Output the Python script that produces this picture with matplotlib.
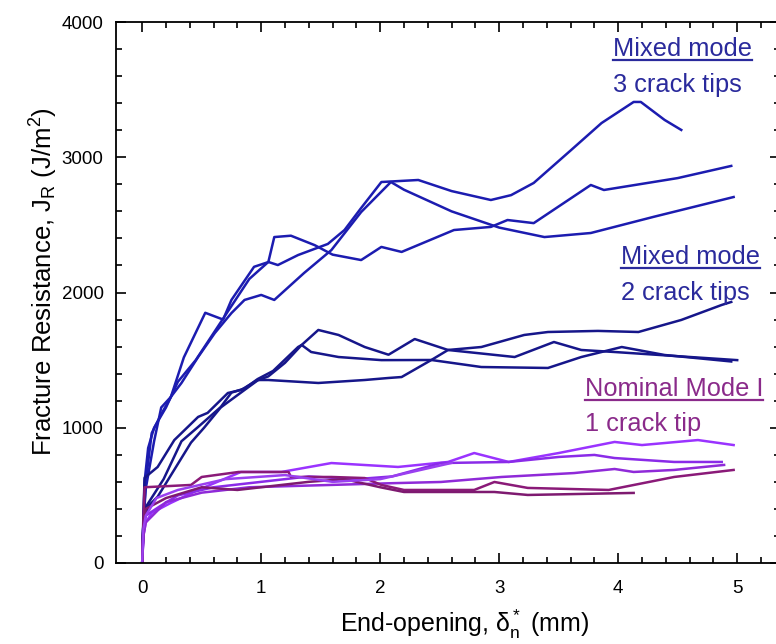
import matplotlib
matplotlib.use('Agg')
import matplotlib.pyplot as plt
from matplotlib.lines import Line2D
import numpy as np

plt.rcParams['font.family'] = ['Liberation Sans', 'DejaVu Sans']
plt.rcParams['mathtext.fontset'] = 'custom'
plt.rcParams['mathtext.rm'] = 'Liberation Sans'
plt.rcParams['mathtext.it'] = 'Liberation Sans:italic'

# mixed mode, 3 crack tips (end-opening mm, J_R J/m^2)
tip3_a_x = [0, 0.01, 0.02, 0.05, 0.1, 0.2, 0.3, 0.45, 0.6, 0.75, 0.9, 1.06, 1.14, 1.31, 1.56, 1.70, 1.84, 2.01,
            2.32, 2.6, 2.93, 3.1, 3.29, 3.6, 3.86, 4.13, 4.19, 4.39, 4.53]
tip3_a_y = [0, 300, 600, 850, 1000, 1150, 1340, 1500, 1700, 1900, 2100, 2226, 2203, 2277, 2359, 2462, 2625, 2817,
            2832, 2750, 2684, 2720, 2810, 3050, 3253, 3409, 3409, 3276, 3202]
tip3_b_x = [0, 0.01, 0.03, 0.08, 0.16, 0.24, 0.35, 0.53, 0.68, 0.75, 0.94, 1.06, 1.11, 1.25, 1.45, 1.6, 1.84,
            2.01, 2.18, 2.62, 2.93, 3.07, 3.29, 3.77, 3.88, 4.5, 4.95]
tip3_b_y = [0, 300, 600, 960, 1100, 1225, 1520, 1850, 1800, 1945, 2190, 2225, 2410, 2420, 2350, 2280, 2240,
            2337, 2300, 2462, 2485, 2536, 2513, 2795, 2758, 2846, 2936]
tip3_c_x = [0, 0.01, 0.03, 0.1, 0.16, 0.24, 0.33, 0.47, 0.61, 0.75, 0.86, 1.0, 1.11, 1.36, 1.59, 1.84, 2.09,
            2.2, 2.6, 3.0, 3.38, 3.77, 4.3, 4.97]
tip3_c_y = [0, 300, 550, 900, 1150, 1227, 1331, 1523, 1700, 1848, 1945, 1982, 1945, 2144, 2314, 2595, 2817,
            2760, 2600, 2480, 2410, 2440, 2560, 2706]

# mixed mode, 2 crack tips
tip2_a_x = [0, 0.01, 0.05, 0.13, 0.27, 0.41, 0.52, 0.66, 0.83, 0.97, 1.06, 1.2, 1.34, 1.48, 1.65, 1.87, 2.07,
            2.29, 2.57, 3.13, 3.46, 3.69, 3.97, 5.0]
tip2_a_y = [0, 300, 420, 490, 690, 890, 1000, 1150, 1260, 1350, 1380, 1480, 1612, 1723, 1686, 1597, 1540,
            1656, 1575, 1523, 1634, 1575, 1560, 1500]
tip2_b_x = [0, 0.01, 0.02, 0.18, 0.33, 0.47, 0.66, 0.75, 0.86, 0.97, 1.1, 1.31, 1.34, 1.42, 1.65, 2.01, 2.43,
            2.85, 3.41, 3.69, 4.03, 4.39, 4.95]
tip2_b_y = [0, 250, 400, 620, 900, 1006, 1153, 1260, 1290, 1360, 1420, 1597, 1612, 1560, 1523, 1500, 1501,
            1449, 1442, 1523, 1597, 1538, 1490]
tip2_c_x = [0, 0.01, 0.02, 0.13, 0.27, 0.47, 0.55, 0.72, 0.83, 0.97, 1.06, 1.48, 1.87, 2.07, 2.18, 2.43, 2.57,
            2.85, 3.21, 3.41, 3.83, 4.17, 4.53, 4.87, 4.95]
tip2_c_y = [0, 350, 630, 710, 909, 1080, 1110, 1257, 1279, 1353, 1353, 1331, 1353, 1368, 1375, 1501, 1575,
            1597, 1686, 1708, 1716, 1708, 1797, 1908, 1930]

# nominal mode I, 1 crack tip
nom_a_x = [0, 0.01, 0.03, 0.08, 0.24, 0.47, 0.83, 1.17, 1.59, 2.15, 2.57, 2.79, 3.08, 3.5, 3.97, 4.2, 4.67, 4.97]
nom_a_y = [0, 200, 300, 370, 444, 540, 673, 673, 739, 710, 747, 813, 747, 813, 895, 872, 909, 872]
nom_b_x = [0, 0.01, 0.03, 0.15, 0.3, 0.6, 1.0, 1.4, 1.8, 2.1, 2.51, 3.08, 3.5, 3.8, 3.97, 4.47, 4.87]
nom_b_y = [0, 200, 350, 420, 500, 560, 600, 640, 620, 640, 739, 747, 784, 799, 776, 747, 747]
nom_c_x = [0, 0.01, 0.03, 0.2, 0.5, 0.9, 1.3, 1.7, 2.1, 2.51, 3.02, 3.63, 3.97, 4.13, 4.47, 4.89]
nom_c_y = [0, 200, 300, 450, 520, 560, 570, 580, 590, 599, 636, 665, 695, 673, 688, 725]
nom_d_x = [0, 0.01, 0.02, 0.41, 0.5, 0.81, 1.23, 1.25, 1.59, 1.87, 2.01, 2.2, 2.51, 2.79, 2.96, 3.24, 3.92,
           4.47, 4.97]
nom_d_y = [0, 300, 560, 577, 636, 673, 673, 636, 636, 628, 577, 540, 540, 540, 599, 555, 540, 636, 688]
nom_e_x = [0, 0.01, 0.03, 0.2, 0.5, 0.8, 1.0, 1.4, 1.7, 2.0, 2.2, 2.51, 2.96, 3.24, 4.13]
nom_e_y = [0, 250, 400, 480, 560, 540, 560, 600, 620, 560, 525, 525, 525, 503, 518]
nom_f_x = [0, 0.01, 0.03, 0.12, 0.3, 0.7, 1.2, 1.6, 2.0, 2.4, 2.6]
nom_f_y = [0, 250, 350, 480, 540, 620, 650, 600, 620, 700, 740]

curves = [
    (tip3_a_x, tip3_a_y, '#1c1cb0'),
    (tip3_b_x, tip3_b_y, '#1c1cb0'),
    (tip3_c_x, tip3_c_y, '#1c1cb0'),
    (tip2_a_x, tip2_a_y, '#16168a'),
    (tip2_b_x, tip2_b_y, '#16168a'),
    (tip2_c_x, tip2_c_y, '#16168a'),
    (nom_a_x, nom_a_y, '#9a33ff'),
    (nom_b_x, nom_b_y, '#8a2be8'),
    (nom_c_x, nom_c_y, '#8f2ad8'),
    (nom_d_x, nom_d_y, '#8a1a78'),
    (nom_e_x, nom_e_y, '#7e1a70'),
    (nom_f_x, nom_f_y, '#9a40f0'),
]

fig = plt.figure(figsize=(7.76, 6.44), dpi=100)
ax = fig.add_axes([0.1495, 0.1258, 0.8557, 0.84])

for cx, cy, col in curves:
    ax.plot(cx, cy, color=col, lw=1.8)

ax.set_xlim(-0.22, 5.36)
ax.set_ylim(0, 4000)
ax.set_xticks(np.arange(0, 6, 1))
ax.set_yticks(np.arange(0, 4001, 1000))
ax.set_xticks(np.arange(0, 5.4, 0.2), minor=True)
ax.set_yticks(np.arange(0, 4001, 200), minor=True)
ax.tick_params(which='both', direction='in', top=True, right=True, labelsize=13.5, width=1.2)
ax.tick_params(which='major', length=7)
ax.tick_params(axis='x', which='major', pad=12)
ax.tick_params(axis='y', which='major', pad=9)
ax.tick_params(which='minor', length=4)
for s in ax.spines.values():
    s.set_linewidth(1.3)

ax.set_xlabel('End-opening, $\\mathrm{\\delta_n^*}$ (mm)', fontsize=18)
ax.set_ylabel('Fracture Resistance, J$_\\mathrm{R}$ (J/m$^\\mathrm{2}$)', fontsize=18.5)
ax.xaxis.set_label_coords(0.525, -0.083)
ax.yaxis.set_label_coords(-0.085, 0.52)

blue = '#2a2a9c'
purple = '#8a2a8a'
labels = [
    (3.96, 3800, 'Mixed mode', blue, True),
    (3.96, 3535, '3 crack tips', blue, False),
    (4.02, 2260, 'Mixed mode', blue, True),
    (4.02, 2000, '2 crack tips', blue, False),
    (3.72, 1285, 'Nominal Mode I', purple, True),
    (3.72, 1030, '1 crack tip', purple, False),
]
texts = []
for tx, ty, s, col, ul in labels:
    t = ax.text(tx, ty, s, color=col, fontsize=18.3, ha='left', va='center')
    texts.append((t, col, ul))

fig.canvas.draw()
r = fig.canvas.get_renderer()
for t, col, ul in texts:
    if not ul:
        continue
    bb = t.get_window_extent(r).transformed(fig.transFigure.inverted())
    y = bb.y0 + 0.002
    fig.add_artist(Line2D([bb.x0, bb.x1], [y, y], color=col, lw=1.6))

fig.savefig('out.png', dpi=100)
